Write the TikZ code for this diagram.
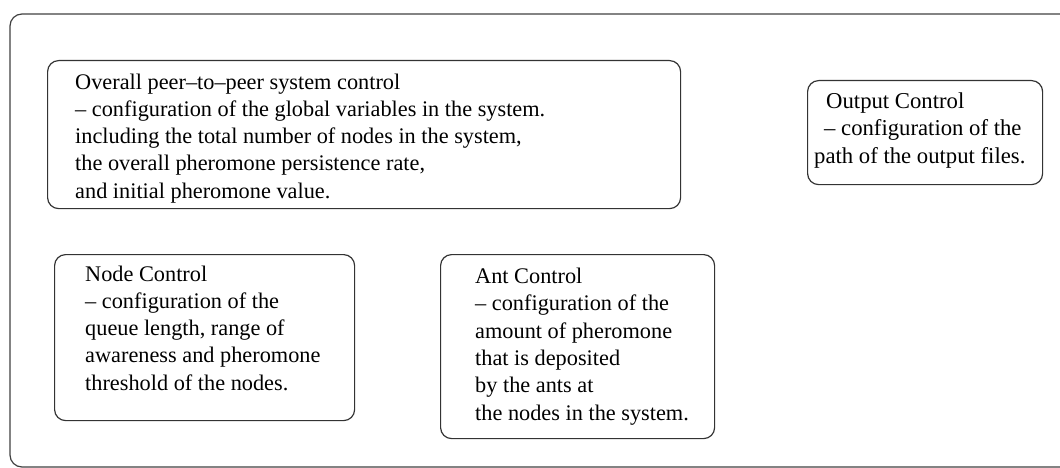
\documentclass[tikz,border=0pt]{standalone}
\usepackage{fontspec}
\setmainfont{Liberation Serif}
\begin{document}
\begin{tikzpicture}[x=1pt,y=-1pt,
  frame/.style={draw=black!75,line width=1.2pt,rounded corners=12pt},
  box/.style={draw=black!80,line width=1.2pt,rounded corners=11pt,inner sep=0pt,anchor=north west},
  txt/.style={anchor=north west,inner sep=0pt,align=left,font=\fontsize{22.3}{27.2}\selectfont}]
\useasboundingbox (0,0) rectangle (1060,468);
\clip (0,0) rectangle (1060,468);
\draw[frame] (10,14) rectangle (1090,467);
% Overall
\node[box,minimum width=633pt,minimum height=148pt] (overall) at (47,60) {};
\node[txt] (overalltxt) at (75,89-15.3) {Overall peer--to--peer system control\\
-- configuration of the global variables in the system.\\
including the total number of nodes in the system,\\
the overall pheromone persistence rate,\\
and initial pheromone value.};
% Output
\node[box,minimum width=235pt,minimum height=104pt] (output) at (807,80) {};
\node[txt,font=\fontsize{22.7}{27.5}\selectfont] (outputtxt) at (814,108-15.6) {\hspace{12pt}Output Control\\
\hspace{10pt}-- configuration of the\\
path of the output files.};
% Node
\node[box,minimum width=300pt,minimum height=166pt] (node) at (54,254) {};
\node[txt] (nodetxt) at (85,281-15.3) {Node Control\\
-- configuration of the\\
queue length, range of\\
awareness and pheromone\\
threshold of the nodes.};
% Ant
\node[box,minimum width=274pt,minimum height=184pt] (ant) at (440,254) {};
\node[txt,font=\fontsize{22.3}{27.4}\selectfont] (anttxt) at (475,283-15.3) {Ant Control\\
-- configuration of the\\
amount of pheromone\\
that is deposited\\
by the ants at\\
the nodes in the system.};
\end{tikzpicture}
\end{document}
